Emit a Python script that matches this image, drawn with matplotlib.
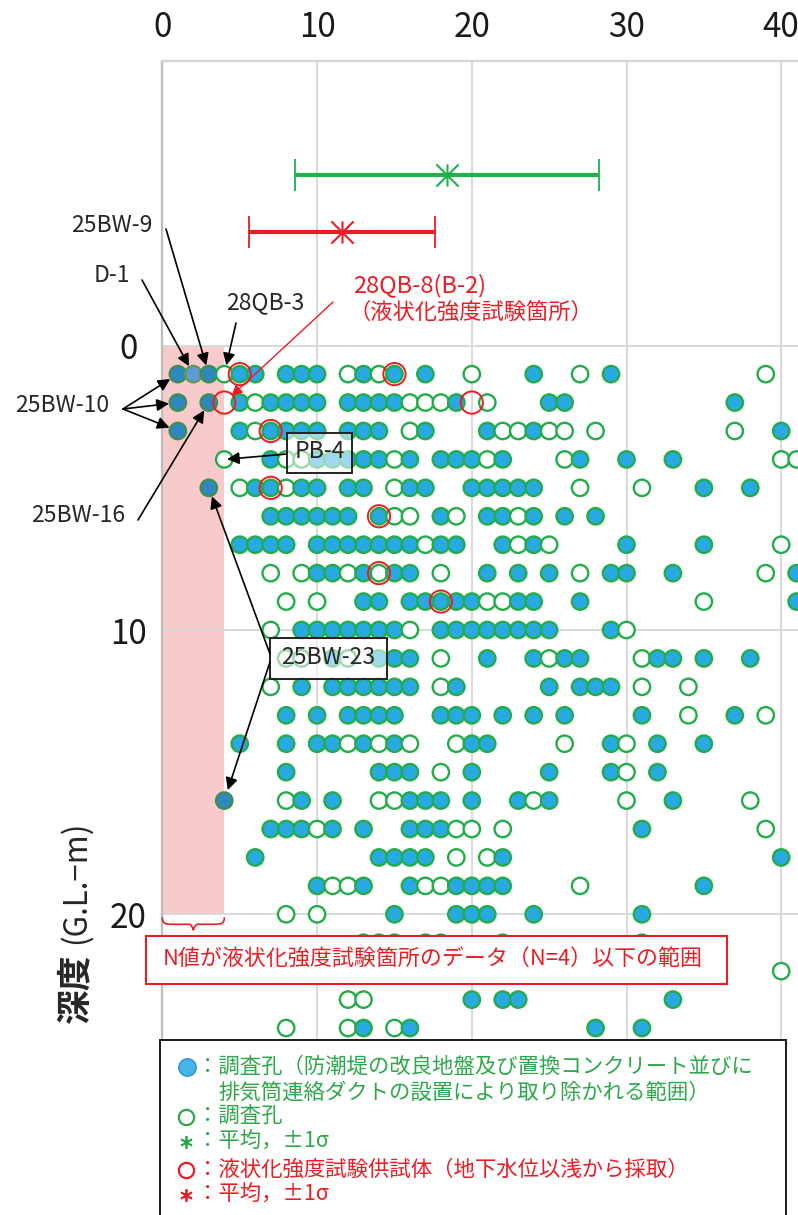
import numpy as np
import matplotlib
matplotlib.use("Agg")
import matplotlib.pyplot as plt
from matplotlib.path import Path
from matplotlib.patches import Rectangle, PathPatch

plt.rcParams['font.family'] = ['Noto Sans CJK JP', 'DejaVu Sans']

# ---------------- data ----------------
depths = list(range(1, 25))
filled_rows = [
    [5, 6, 8, 9, 10, 13, 15, 17, 24, 29],
    [5, 7, 8, 9, 10, 12, 13, 14, 15, 19, 25, 26, 37],
    [5, 7, 8, 9, 10, 12, 13, 14, 17, 21, 24, 40],
    [7, 10, 11, 12, 13, 14, 16, 18, 19, 20, 22, 27, 30, 33],
    [6, 7, 9, 10, 12, 13, 16, 17, 20, 21, 22, 23, 24, 35, 38],
    [7, 8, 9, 10, 11, 12, 14, 18, 21, 22, 24, 26, 28],
    [5, 6, 7, 8, 10, 11, 12, 13, 14, 15, 16, 18, 19, 22, 24, 30, 35],
    [10, 11, 13, 15, 16, 21, 23, 25, 29, 30, 33, 41],
    [13, 14, 16, 17, 18, 19, 20, 23, 24, 27, 41],
    [9, 10, 11, 12, 13, 14, 15, 18, 19, 20, 21, 22, 23, 24, 25, 29],
    [11, 14, 15, 16, 21, 24, 26, 27, 32, 33, 35, 38],
    [9, 11, 12, 13, 14, 15, 16, 19, 25, 27, 28, 29],
    [8, 10, 12, 13, 14, 15, 18, 19, 20, 22, 24, 26, 31, 37],
    [5, 8, 10, 11, 13, 15, 20, 21, 29, 32, 35],
    [8, 14, 15, 16, 20, 25, 29, 32],
    [9, 11, 16, 17, 18, 20, 23, 25, 33],
    [7, 8, 9, 11, 13, 16, 17, 18, 31],
    [6, 14, 15, 16, 17, 22, 40],
    [10, 13, 16, 19, 20, 21, 22, 35],
    [15, 19, 20, 21, 24, 31],
    [13, 14, 15, 22],
    [],
    [20, 22, 23, 33],
    [13, 16, 28, 31],
]
open_rows = [
    [4, 12, 14, 20, 27, 39],
    [6, 16, 17, 18, 21],
    [6, 16, 22, 23, 25, 26, 28, 37],
    [4, 8, 9, 15, 21, 26, 40, 41],
    [5, 8, 15, 27, 31],
    [15, 16, 19, 23],
    [17, 23, 25, 40],
    [7, 9, 12, 14, 18, 27, 39],
    [8, 10, 21, 22, 35],
    [7, 16, 30],
    [8, 9, 12, 18, 25, 31],
    [7, 18, 31, 34],
    [34, 39],
    [12, 14, 16, 19, 26, 30],
    [18, 30],
    [8, 14, 15, 24, 30, 38],
    [10, 19, 20, 22, 39],
    [19, 21],
    [11, 12, 17, 18, 27],
    [8, 10],
    [17, 18, 31],
    [40],
    [12, 13],
    [8, 12, 15],
]
# highlighted boreholes (25BW series) and D-1
bw_N = [1, 3, 1, 3, 1, 3, 4]
bw_depth = [1, 1, 2, 2, 3, 5, 16]
d1_N = [2]
d1_depth = [1]
# liquefaction test specimens
red_N = [5, 15, 4, 20, 7, 7, 14, 14, 18]
red_depth = [1, 1, 2, 2, 3, 5, 6, 8, 9]
# mean +/- 1 sigma
green_mean, green_sd, green_y = 18.4, 9.8, -6
red_mean, red_sd, red_y = 11.6, 6.0, -4
x_ticks = [0, 10, 20, 30, 40]
y_ticks = [0, 10, 20]
limit_N = 4
limit_depth = 20

# ---------------- colours ----------------
C_FILL = '#29A9E1'
C_EDGE = '#22AC4A'
C_BW = '#2F87C0'
C_BW_EDGE = '#3F8E50'
C_D1 = '#5E9CD6'
C_RED = '#EC1C24'
C_GRID = '#D9D9D9'
C_TXT = '#262626'
C_PINK = '#F8CACC'
C_LGREEN = '#2EA84A'

W, H, DPI = 798, 1215, 100
fig = plt.figure(figsize=(W / DPI, H / DPI), dpi=DPI)

AX_L, AX_T = 162.4, 61.4
UX, UY = 15.47, 28.43
Y_TOP, Y_BOT = -10, 25
ax_h = (Y_BOT - Y_TOP) * UY
ax = fig.add_axes([AX_L / W, 1 - (AX_T + ax_h) / H, (W - AX_L) / W, ax_h / H])
ax.set_xlim(0, (W - AX_L) / UX)
ax.set_ylim(Y_BOT, Y_TOP)

# spines / grid
for s in ['right', 'bottom']:
    ax.spines[s].set_visible(False)
ax.spines['left'].set_color('#BDBDBD')
ax.spines['left'].set_linewidth(1.6)
ax.spines['top'].set_color('#D4D4D4')
ax.spines['top'].set_linewidth(1.6)
ax.set_axisbelow(True)
ax.set_xticks(x_ticks)
ax.set_yticks(y_ticks)
ax.grid(True, color=C_GRID, lw=1.4)
ax.xaxis.tick_top()
ax.tick_params(axis='x', length=0, pad=12, labelsize=24)
ax.tick_params(axis='y', length=0, pad=24.5, labelsize=24)
for lbl in ax.get_xticklabels():
    lbl.set_color('#1a1a1a')
for lbl in ax.get_yticklabels():
    lbl.set_ha('center')
    lbl.set_color('#1a1a1a')

# pink range
ax.add_patch(Rectangle((0, 0), limit_N, limit_depth, facecolor=C_PINK,
                       edgecolor='none', zorder=0.2))

# points: sorted left to right in each row
pts = []
for d, fr, op in zip(depths, filled_rows, open_rows):
    for n in fr:
        pts.append((d, n, C_FILL, C_EDGE))
    for n in op:
        pts.append((d, n, 'white', C_EDGE))
for n, d in zip(bw_N, bw_depth):
    pts.append((d, n, C_BW, C_BW_EDGE))
for n, d in zip(d1_N, d1_depth):
    pts.append((d, n, C_D1, '#5E9A58'))
pts.sort(key=lambda p: (p[0], p[1]))
ax.scatter([p[1] for p in pts], [p[0] for p in pts], s=11.8 ** 2,
           facecolors=[p[2] for p in pts], edgecolors=[p[3] for p in pts],
           linewidths=1.7, zorder=3, clip_on=True)
ax.scatter(red_N, red_depth, s=16 ** 2, facecolors='none', edgecolors=C_RED,
           linewidths=1.4, zorder=4)

# mean +/- sigma
star = Path([(0, -1), (0, 1), (-1, -1), (1, 1), (-1, 1), (1, -1), (-1, 0), (1, 0)],
            [Path.MOVETO, Path.LINETO] * 4)
for m, sd, y, c in [(green_mean, green_sd, green_y, '#22B04B'),
                    (red_mean, red_sd, red_y, C_RED)]:
    ax.errorbar([m], [y], xerr=[sd], color=c, lw=3, capsize=11.5,
                capthick=1.3, fmt='none', zorder=3)
    ax.plot([m], [y], marker=star, ms=16, mec=c, mfc='none', mew=1.5,
            ls='none', zorder=4)

# ---------------- overlay in pixel coordinates ----------------
ov = fig.add_axes([0, 0, 1, 1], zorder=5)
ov.set_xlim(0, W)
ov.set_ylim(H, 0)
ov.axis('off')
ov.patch.set_visible(False)


def d2p(n, d):
    x, y = ax.transData.transform((n, d))
    return (x, H - y)


def arrow(start, n, d, color='k', shrink=6.5, lw=1.2, ms=18):
    ov.annotate('', xy=d2p(n, d), xytext=start, xycoords='data', textcoords='data',
                arrowprops=dict(arrowstyle='-|>', color=color, lw=lw,
                                shrinkA=0, shrinkB=shrink, mutation_scale=ms))


LBL = 16.5
ov.text(112, 225, '25BW-9', ha='center', va='center', fontsize=LBL, color=C_TXT)
arrow((166, 229), 3, 1)
ov.text(112, 276, 'D-1', ha='center', va='center', fontsize=LBL, color=C_TXT)
arrow((142, 280), 2, 1)
ov.text(265, 303, '28QB-3', ha='center', va='center', fontsize=LBL, color=C_TXT)
arrow((236, 323), 4, 1)
ov.text(420, 285, '28QB-8(B-2)', ha='center', va='center', fontsize=LBL + 0.5, color=C_RED)
ov.text(471, 312, '（液状化強度試験箇所）', ha='center', va='center', fontsize=LBL - 0.5, color=C_RED)
arrow((333, 302), 4, 2, color=C_RED, shrink=7, lw=1.0, ms=16)
ov.text(62, 406, '25BW-10', ha='center', va='center', fontsize=LBL, color=C_TXT)
for d in [1, 2, 3]:
    arrow((123, 409), 1, d)
ov.text(78, 516, '25BW-16', ha='center', va='center', fontsize=LBL, color=C_TXT)
arrow((138, 520), 3, 2)

# PB-4 box
ov.add_patch(Rectangle((287, 433), 65, 40, facecolor=(1, 1, 1, 0.55),
                       edgecolor='#222222', lw=1.4))
ov.text(320, 452, 'PB-4', ha='center', va='center', fontsize=LBL, color=C_TXT)
arrow((287, 454), 4, 4, shrink=2)

# 25BW-23 box
ov.add_patch(Rectangle((270, 638), 117, 41, facecolor=(1, 1, 1, 0.55),
                       edgecolor='#222222', lw=1.4))
ov.text(328, 658, '25BW-23', ha='center', va='center', fontsize=LBL, color=C_TXT)
arrow((270, 654), 3, 5, shrink=6.5)
arrow((270, 662), 4, 16, shrink=8)

# red brace under the shaded range
x0, _ = d2p(0, limit_depth)
x1, yb = d2p(limit_N, limit_depth)
xm = (x0 + x1) / 2
yb = yb + 3
bv = [(x0, yb), (x0, yb + 6), (x0 + 2, yb + 7), (x0 + 10, yb + 7),
      (xm - 4, yb + 7), (xm - 1, yb + 8), (xm, yb + 13),
      (xm + 1, yb + 8), (xm + 4, yb + 7), (x1 - 10, yb + 7),
      (x1 - 2, yb + 7), (x1, yb + 6), (x1, yb)]
bc = [Path.MOVETO, Path.CURVE4, Path.CURVE4, Path.CURVE4,
      Path.LINETO, Path.CURVE3, Path.CURVE3,
      Path.CURVE3, Path.CURVE3, Path.LINETO,
      Path.CURVE4, Path.CURVE4, Path.CURVE4]
ov.add_patch(PathPatch(Path(bv, bc), facecolor='none', edgecolor=C_RED, lw=1.2))

# red note box
ov.add_patch(Rectangle((146, 936), 581, 48, facecolor='white', edgecolor=C_RED, lw=1.5))
ov.text(163, 960, 'N値が液状化強度試験箇所のデータ（N=4）以下の範囲', ha='left',
        va='center', fontsize=15.8, color=C_RED)

# y-axis title
ov.text(75, 988, '深度', rotation=90, ha='center', va='center', fontsize=25,
        fontweight='bold', color=C_TXT)
ov.text(75, 882, '(G.L.−m)', rotation=90, ha='center', va='center', fontsize=22.5,
        color=C_TXT)

# legend box
ov.add_patch(Rectangle((160, 1040), 626, 190, facecolor='white', edgecolor='#1a1a1a', lw=1.4))
LG = 15.4
ov.scatter([187], [1067], s=12.5 ** 2, facecolors='#45B5E8', edgecolors='#2A8FD0', linewidths=1.0)
ov.text(197, 1067, '：調査孔（防潮堤の改良地盤及び置換コンクリート並びに', ha='left', va='center',
        fontsize=LG, color=C_LGREEN)
ov.text(218, 1093, '排気筒連絡ダクトの設置により取り除かれる範囲）', ha='left', va='center',
        fontsize=LG, color=C_LGREEN)
ov.scatter([186], [1117], s=11 ** 2, facecolors='white', edgecolors=C_LGREEN, linewidths=1.6)
ov.text(197, 1117, '：調査孔', ha='left', va='center', fontsize=LG, color=C_LGREEN)
ov.plot([186], [1142], marker=(6, 2, 0), ms=9, mec=C_LGREEN, mew=1.3, ls='none')
ov.text(197, 1142, '：平均，±1σ', ha='left', va='center', fontsize=LG, color=C_LGREEN)
ov.scatter([186], [1170], s=11 ** 2, facecolors='white', edgecolors=C_RED, linewidths=1.6)
ov.text(197, 1170, '：液状化強度試験供試体（地下水位以浅から採取）', ha='left', va='center',
        fontsize=LG, color=C_RED)
ov.plot([186], [1195], marker=(6, 2, 0), ms=9, mec=C_RED, mew=1.3, ls='none')
ov.text(197, 1195, '：平均，±1σ', ha='left', va='center', fontsize=LG, color=C_RED)

fig.savefig('out.png', dpi=DPI)
